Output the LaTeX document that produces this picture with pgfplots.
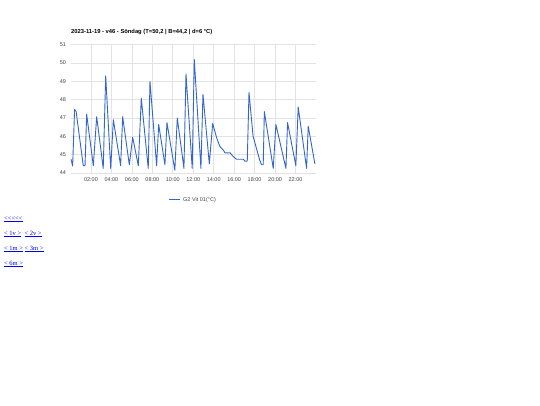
\documentclass[border=0pt]{standalone}
\usepackage{pgfplots}
\pgfplotsset{compat=1.18}
\usepackage{fontspec}
\setmainfont{Liberation Sans}
\newfontfamily\seriffont{Liberation Serif}
\definecolor{gline}{HTML}{3366CC}
\definecolor{gridc}{HTML}{E3E3E3}
\definecolor{tickc}{HTML}{444444}
\definecolor{linkc}{HTML}{0000EE}
\begin{document}
\begin{tikzpicture}
\fill[white] (0,0) rectangle (540pt,-405pt);
\begin{axis}[
  at={(70.5pt,-173pt)}, anchor=south west,
  scale only axis, width=245.5pt, height=128.3pt,
  xmin=0, xmax=24, ymin=44, ymax=51,
  xtick={2,4,...,22},
  xticklabels={02:00,04:00,06:00,08:00,10:00,12:00,14:00,16:00,18:00,20:00,22:00},
  ytick={44,...,51},
  grid=major, major grid style={gridc, line width=0.6pt},
  axis line style={draw=none},
  tick style={draw=none},
  ticklabel style={font=\fontsize{5.5}{6}\selectfont, text=tickc},
  /pgf/number format/assume math mode=true,
  xticklabel style={yshift=-1pt},
  yticklabel style={xshift=-1pt},
  clip=false,
]
\addplot[gline, line width=0.9pt, line join=round] coordinates {
(0.05,44.75) (0.21,44.38) (0.40,47.47) (0.55,47.35) (1.25,44.4) (1.42,44.4)
(1.58,47.2) (2.23,44.4) (2.56,47.07) (3.20,44.25) (3.44,49.3) (3.93,44.25)
(4.19,46.9) (4.90,44.4) (5.10,47.07) (5.75,44.45) (6.08,45.95) (6.63,44.4)
(6.92,48.07) (7.60,44.25) (7.77,49.0) (8.42,44.4) (8.62,46.65) (9.23,44.45)
(9.43,46.75) (10.20,44.15) (10.44,47.0) (11.09,44.25) (11.29,49.4) (11.90,44.25)
(12.10,50.2) (12.75,44.25) (12.95,48.3) (13.57,44.5) (13.90,46.7) (14.30,45.9)
(14.60,45.45) (14.94,45.25) (15.10,45.1) (15.60,45.1) (15.90,44.9) (16.23,44.75)
(16.90,44.75) (17.05,44.65) (17.28,44.65) (17.45,48.4) (17.85,46.0) (18.50,44.7)
(18.68,44.45) (18.84,44.45) (18.95,47.35) (19.82,44.25) (20.08,46.65) (21.06,44.25)
(21.22,46.75) (22.03,44.4) (22.26,47.6) (23.08,44.25) (23.24,46.55) (23.89,44.5)
};
\end{axis}
\node[anchor=base west, inner sep=0pt, font=\bfseries\fontsize{5.8}{7}\selectfont] at (71pt,-33pt)
  {2023-11-19 - v46 - Söndag (T=50,2 | B=44,2 | d=6 °C)};
\draw[gline, line width=0.9pt] (169pt,-199pt) -- (180pt,-199pt);
\node[anchor=base west, font=\fontsize{5.5}{6}\selectfont, text=tickc, inner sep=0pt] at (183pt,-201pt) {G2 Vit 01(°C)};
\begin{scope}[every node/.style={anchor=base west, inner sep=0pt, font=\seriffont\fontsize{6.5}{7}\selectfont, text=linkc}]
\node at (4pt,-220pt) {\underline{<<<<<}};
\node at (4pt,-235pt) {\underline{< 1v >}\ \ \underline{< 2v >}};
\node at (4pt,-250pt) {\underline{< 1m >}\ \underline{< 3m >}};
\node at (4pt,-265pt) {\underline{< 6m >}};
\end{scope}
\end{tikzpicture}
\end{document}
